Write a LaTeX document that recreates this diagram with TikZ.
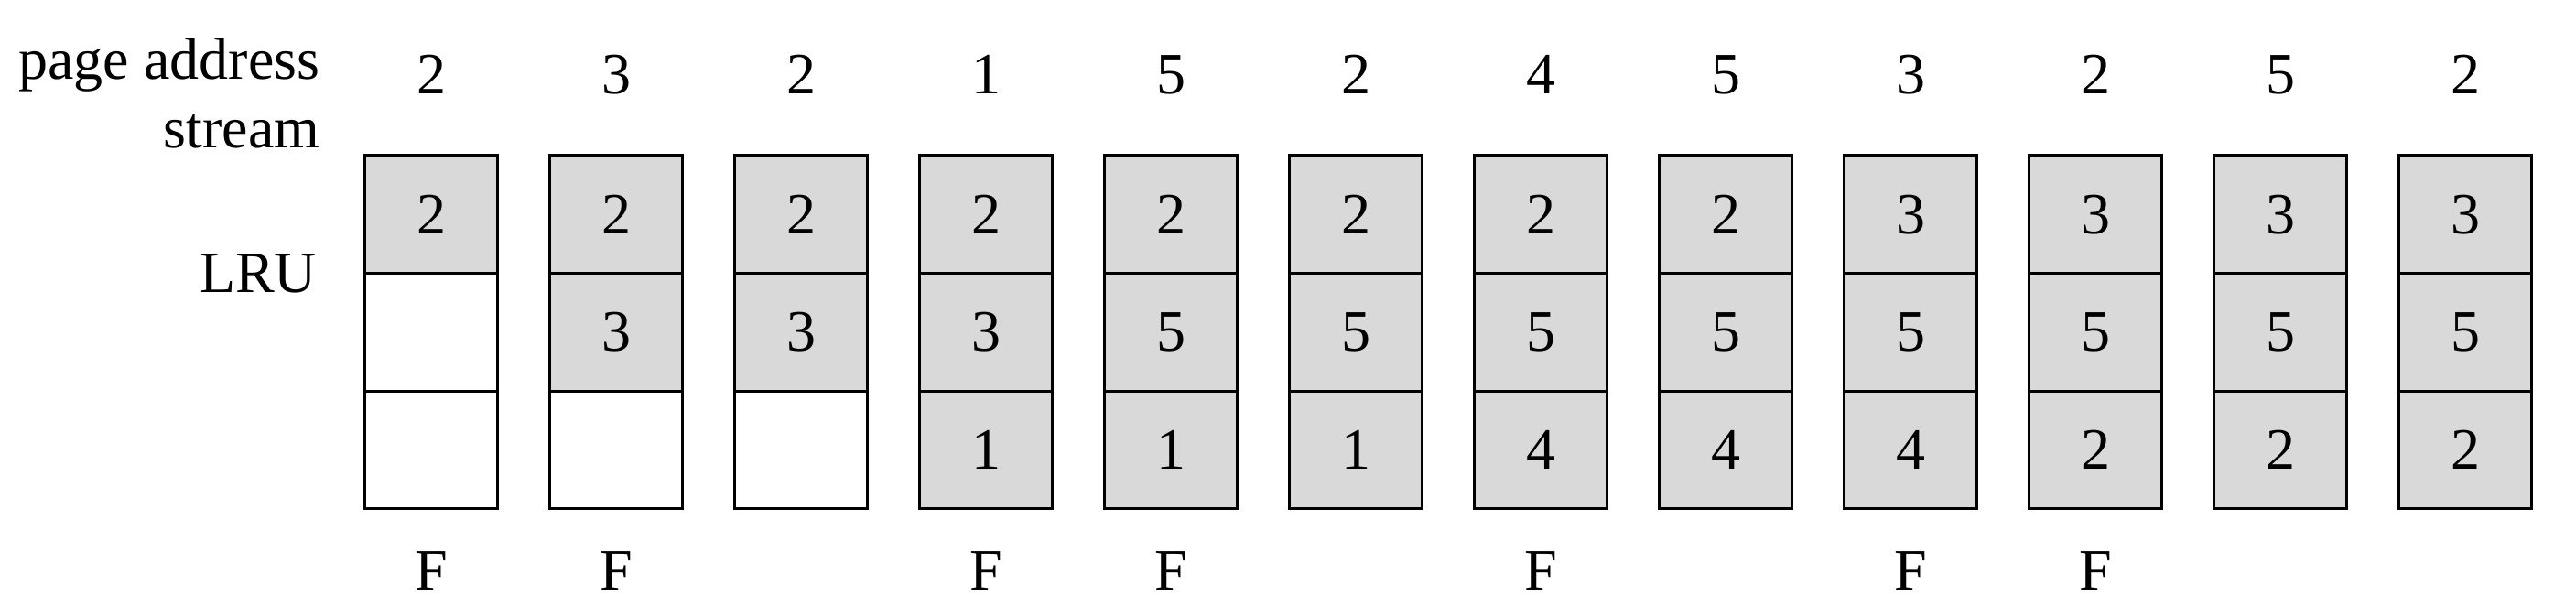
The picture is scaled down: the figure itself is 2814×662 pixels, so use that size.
\documentclass[tikz,border=0pt]{standalone}
\usepackage{fontspec}
\setmainfont{Liberation Serif}

\tikzset{
  lbl/.style={inner sep=0pt, font=\fontsize{16}{17}\selectfont},
  pagecell/.style={draw, line width=0.75pt, fill=black!15, inner sep=0pt,
    minimum width=36.25pt, minimum height=32.17pt, font=\fontsize{16}{17}\selectfont},
  emptycell/.style={pagecell, fill=white},
}

\begin{document}
\begin{tikzpicture}[x=0.25pt,y=-0.25pt]
\useasboundingbox (0,0) rectangle (2814,662);
\node[lbl,anchor=base east] (page) at (350,87) {page address};
\node[lbl,anchor=base east] (stream) at (350,162) {stream};
\node[lbl,anchor=base east] (lru) at (347,320) {LRU};
%0 stands for an empty frame
\foreach \s/\a/\b/\c/\f [count=\i from 0] in {2/2/0/0/F, 3/2/3/0/F, 2/2/3/0/{}, 1/2/3/1/F,
  5/2/5/1/F, 2/2/5/1/{}, 4/2/5/4/F, 5/2/5/4/{}, 3/3/5/4/F, 2/3/5/2/F, 5/3/5/2/{}, 2/3/5/2/{}}
{
  \node[lbl,anchor=base] (s\i) at (471+202*\i,102.6) {\s};
  \foreach \v [count=\r from 0] in {\a,\b,\c} {
    \ifnum\v=0
      \node[emptycell] (c\i-\r) at (471+202*\i,234.3+128.67*\r) {};
    \else
      \node[pagecell] (c\i-\r) at (471+202*\i,234.3+128.67*\r) {\v};
    \fi
  }
  \node[lbl,anchor=base] (f\i) at (471+202*\i,644) {\f};
}
\end{tikzpicture}
\end{document}
